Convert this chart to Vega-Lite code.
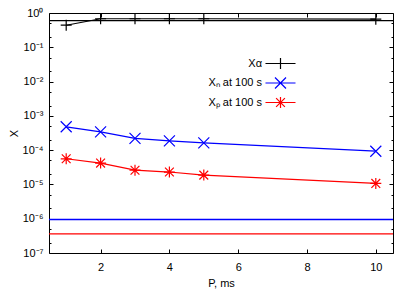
{
  "$schema": "https://vega.github.io/schema/vega-lite/v6.json",
  "autosize": "none",
  "padding": {"left": 49, "top": 13, "right": 22, "bottom": 38},
  "width": 344,
  "height": 240,
  "config": {
    "font": "Liberation Sans",
    "view": {"stroke": null},
    "axis": {"grid": false, "domainColor": "#000000", "domainWidth": 1, "tickColor": "#000000", "labelColor": "#000000", "titleColor": "#000000", "labelFontSize": 11, "titleFontSize": 11, "titleFontWeight": "normal"}
  },
  "datasets": {
    "pts": [
      {"series": "a", "P": 1, "X": 0.44},
      {"series": "a", "P": 2, "X": 0.68},
      {"series": "a", "P": 3, "X": 0.68},
      {"series": "a", "P": 4, "X": 0.68},
      {"series": "a", "P": 5, "X": 0.68},
      {"series": "a", "P": 10, "X": 0.66},
      {"series": "n", "P": 1, "X": 0.00048},
      {"series": "n", "P": 2, "X": 0.00034},
      {"series": "n", "P": 3, "X": 0.00022},
      {"series": "n", "P": 4, "X": 0.000187},
      {"series": "n", "P": 5, "X": 0.000163},
      {"series": "n", "P": 10, "X": 0.000093},
      {"series": "p", "P": 1, "X": 0.000056},
      {"series": "p", "P": 2, "X": 0.000042},
      {"series": "p", "P": 3, "X": 0.000026},
      {"series": "p", "P": 4, "X": 0.000023},
      {"series": "p", "P": 5, "X": 0.0000187},
      {"series": "p", "P": 10, "X": 0.0000107}
    ],
    "hlines": [
      {"series": "a", "X": 0.6},
      {"series": "n", "X": 0.00000095},
      {"series": "p", "X": 0.00000036}
    ]
  },
  "resolve": {"axis": {"x": "independent", "y": "independent"}, "scale": {"shape": "independent", "color": "independent"}},
  "layer": [
    {
      "data": {"name": "pts"},
      "mark": {"type": "point", "filled": false, "size": 121, "strokeWidth": 1.2, "opacity": 0},
      "encoding": {
        "x": {"field": "P", "type": "quantitative", "scale": {"domain": [0.5, 10.5], "nice": false, "zero": false}, "axis": null},
        "y": {"field": "X", "type": "quantitative", "scale": {"type": "log", "domain": [1e-7, 1]}, "axis": null},
        "shape": {"field": "series", "type": "nominal", "scale": {"domain": ["a", "n", "p"], "range": ["M-2.73,0H2.73M0,-1V1", "M-2.73,0H2.73M-1,-1L1,1M-1,1L1,-1", "M-2.73,0H2.73M0,-1V1M-0.8,-0.8L0.8,0.8M-0.8,0.8L0.8,-0.8"]},
          "legend": {"title": null, "orient": "none", "legendX": 150, "legendY": 44, "padding": 0,
            "symbolSize": 121, "symbolStrokeWidth": 1.2, "symbolOpacity": 1, "symbolOffset": 75, "labelOffset": -25, "labelAlign": "right",
            "labelFontSize": 11, "labelColor": "#000000", "rowPadding": 2.5,
            "labelExpr": "datum.value == 'a' ? 'Xα' : datum.value == 'n' ? 'Xₙ at 100 s' : 'Xₚ at 100 s'"}},
        "color": {"field": "series", "type": "nominal", "scale": {"domain": ["a", "n", "p"], "range": ["#000000", "#0000ff", "#ff0000"]},
          "legend": {"title": null, "orient": "none", "legendX": 150, "legendY": 44, "padding": 0,
            "symbolSize": 121, "symbolStrokeWidth": 1.2, "symbolOpacity": 1, "symbolOffset": 75, "labelOffset": -25, "labelAlign": "right",
            "labelFontSize": 11, "labelColor": "#000000", "rowPadding": 2.5,
            "labelExpr": "datum.value == 'a' ? 'Xα' : datum.value == 'n' ? 'Xₙ at 100 s' : 'Xₚ at 100 s'"}}
      }
    },
    {
      "data": {"name": "pts"},
      "mark": {"type": "line", "strokeWidth": 1.2},
      "encoding": {
        "x": {"field": "P", "type": "quantitative", "scale": {"domain": [0.5, 10.5], "nice": false, "zero": false},
          "axis": {"orient": "bottom", "title": "P, ms", "values": [2, 4, 6, 8, 10], "tickSize": -4, "labelPadding": 12, "titlePadding": 5, "labelFlush": false}},
        "y": {"field": "X", "type": "quantitative", "scale": {"type": "log", "domain": [1e-7, 1]},
          "axis": {"orient": "left", "title": "X", "titlePadding": 3,
            "values": [1e-7, 2e-7, 5e-7, 1e-6, 2e-6, 5e-6, 1e-5, 2e-5, 5e-5, 1e-4, 2e-4, 5e-4, 1e-3, 2e-3, 5e-3, 0.01, 0.02, 0.05, 0.1, 0.2, 0.5, 1],
            "labelExpr": "abs(log(datum.value)/LN10 - round(log(datum.value)/LN10)) < 0.01 ? '10' + ['⁰','⁻¹','⁻²','⁻³','⁻⁴','⁻⁵','⁻⁶','⁻⁷'][-round(log(datum.value)/LN10)] : ''",
            "tickSize": {"condition": {"test": "abs(log(datum.value)/LN10 - round(log(datum.value)/LN10)) < 0.01", "value": -4}, "value": -2},
            "labelPadding": 10, "labelFlush": false, "labelOverlap": false}},
        "color": {"field": "series", "type": "nominal", "scale": {"domain": ["a", "n", "p"], "range": ["#000000", "#0000ff", "#ff0000"]}, "legend": null}
      }
    },
    {
      "data": {"name": "pts"},
      "mark": {"type": "point", "filled": false, "size": 121, "strokeWidth": 1.2, "opacity": 1},
      "encoding": {
        "x": {"field": "P", "type": "quantitative", "scale": {"domain": [0.5, 10.5], "nice": false, "zero": false},
          "axis": {"orient": "top", "title": null, "labels": false, "values": [2, 4, 6, 8, 10], "tickSize": -4}},
        "y": {"field": "X", "type": "quantitative", "scale": {"type": "log", "domain": [1e-7, 1]},
          "axis": {"orient": "right", "title": null, "labels": false,
            "values": [1e-7, 2e-7, 5e-7, 1e-6, 2e-6, 5e-6, 1e-5, 2e-5, 5e-5, 1e-4, 2e-4, 5e-4, 1e-3, 2e-3, 5e-3, 0.01, 0.02, 0.05, 0.1, 0.2, 0.5, 1],
            "tickSize": {"condition": {"test": "abs(log(datum.value)/LN10 - round(log(datum.value)/LN10)) < 0.01", "value": -4}, "value": -2}}},
        "shape": {"field": "series", "type": "nominal", "scale": {"domain": ["a", "n", "p"], "range": ["M-1,0H1M0,-1V1", "M-1,-1L1,1M-1,1L1,-1", "M-1,0H1M0,-1V1M-0.8,-0.8L0.8,0.8M-0.8,0.8L0.8,-0.8"]}, "legend": null},
        "color": {"field": "series", "type": "nominal", "scale": {"domain": ["a", "n", "p"], "range": ["#000000", "#0000ff", "#ff0000"]}, "legend": null}
      }
    },
    {
      "data": {"name": "hlines"},
      "mark": {"type": "rule", "strokeWidth": 1.3},
      "encoding": {
        "y": {"field": "X", "type": "quantitative", "scale": {"type": "log", "domain": [1e-7, 1]}, "axis": null},
        "color": {"field": "series", "type": "nominal", "scale": {"domain": ["a", "n", "p"], "range": ["#000000", "#0000ff", "#ff0000"]}, "legend": null}
      }
    }
  ]
}
